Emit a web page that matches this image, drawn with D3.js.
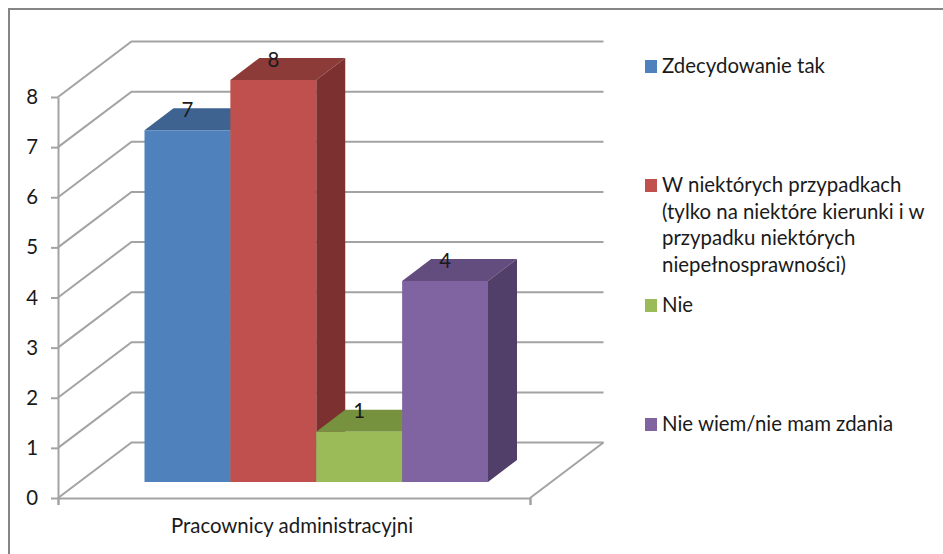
<!DOCTYPE html>
<html lang="pl">
<head>
<meta charset="utf-8">
<style>
  html, body { margin: 0; padding: 0; background: #fff; }
  svg { display: block; }
  text { font-family: Lato, "Open Sans", sans-serif; fill: #1a1a1a; }
</style>
<script src="https://cdn.jsdelivr.net/npm/d3@7/dist/d3.min.js"></script>
</head>
<body>
<svg id="chart" width="943" height="554"></svg>
<script>
const category = "Pracownicy administracyjni";
const seriesNames = ["Zdecydowanie tak", "W niektórych przypadkach", "Nie", "Nie wiem/nie mam zdania"];
const seriesValues = [7, 8, 1, 4];
const frontColors = ["#4f81bd", "#c0504d", "#9bbb59", "#8064a2"];
const topColors = ["#3f6390", "#8c3b39", "#76923f", "#634d7e"];
const sideColors = ["#34527a", "#7c302f", "#627a34", "#523f69"];
const yTicks = [0, 1, 2, 3, 4, 5, 6, 7, 8];
const legendEntries = [
  { swatch: 0, y: 66, lines: ["Zdecydowanie tak"] },
  { swatch: 1, y: 185, lines: ["W niektórych przypadkach", "(tylko na niektóre kierunki i w", "przypadku niektórych", "niepełnosprawności)"] },
  { swatch: 2, y: 305, lines: ["Nie"] },
  { swatch: 3, y: 424, lines: ["Nie wiem/nie mam zdania"] }
];

const svg = d3.select("#chart");
const gridColor = "#a3a3a3";
const fontSize = 20.4;

// Chart frame: only the top and left edges fall inside the canvas.
svg.append("path")
  .attr("d", d3.line()([[943, 9], [9, 9], [9, 554]]))
  .attr("fill", "none").attr("stroke", "#858585").attr("stroke-width", 2);

// Oblique projection: the wall sits behind the front plane, bars halfway in.
const wallY = d3.scaleLinear().domain([0, 8]).range([498, 97]);
const barY = d3.scaleLinear().domain([0, 8]).range([482, 80]);
const frontX = d3.scaleLinear().domain([0, 1]).range([58, 530]);
const wallDepth = { dx: 73.5, dy: -55.5 };
const barDepth = { dx: 29, dy: -22 };
const barX = d3.scaleBand().domain(seriesNames).range([144.5, 488]);

// Gridlines run along the side wall, then across the back wall.
const grid = svg.append("g").attr("fill", "none").attr("stroke", gridColor).attr("stroke-width", 2);
grid.selectAll("path").data(yTicks).join("path")
  .attr("d", v => d3.line()([
    [frontX(0), wallY(v)],
    [frontX(0) + wallDepth.dx, wallY(v) + wallDepth.dy],
    [frontX(1) + wallDepth.dx, wallY(v) + wallDepth.dy]
  ]));
grid.append("path").attr("d", d3.line()([
  [frontX(1) + wallDepth.dx, wallY(0) + wallDepth.dy],
  [frontX(1), wallY(0)]
]));

// Value axis
const yAxis = svg.append("g")
  .attr("transform", `translate(${frontX(0)},0)`)
  .call(d3.axisLeft(wallY).tickValues(yTicks).tickSize(7).tickPadding(13).tickSizeOuter(0));
yAxis.selectAll("line, path").attr("stroke", gridColor).attr("stroke-width", 2);
yAxis.selectAll("text").attr("font-size", fontSize).attr("font-family", "Lato").attr("fill", "#1a1a1a");

// Category axis
const xAxis = svg.append("g")
  .attr("transform", `translate(0,${wallY(0)})`)
  .call(d3.axisBottom(frontX).tickValues([0, 1]).tickSize(7).tickFormat(""));
xAxis.selectAll("line, path").attr("stroke", gridColor).attr("stroke-width", 2);
svg.append("text")
  .attr("x", 292).attr("y", 533)
  .attr("text-anchor", "middle").attr("font-size", fontSize)
  .text(category);

// Bars, painted left to right so each one covers its neighbour's side face.
const bars = svg.append("g").selectAll("g").data(seriesValues).join("g");
const w = barX.bandwidth();
const polygon = pts => d3.line()(pts) + "Z";
bars.append("path")
  .attr("fill", (d, i) => topColors[i])
  .attr("d", (d, i) => {
    const x = barX(seriesNames[i]), y = barY(d);
    return polygon([[x, y], [x + barDepth.dx, y + barDepth.dy], [x + w + barDepth.dx, y + barDepth.dy], [x + w, y]]);
  });
bars.append("path")
  .attr("fill", (d, i) => sideColors[i])
  .attr("d", (d, i) => {
    const x = barX(seriesNames[i]) + w, y = barY(d), y0 = barY(0);
    return polygon([[x, y], [x + barDepth.dx, y + barDepth.dy], [x + barDepth.dx, y0 + barDepth.dy], [x, y0]]);
  });
bars.append("rect")
  .attr("fill", (d, i) => frontColors[i])
  .attr("x", (d, i) => barX(seriesNames[i]))
  .attr("y", d => barY(d))
  .attr("width", w)
  .attr("height", d => barY(0) - barY(d));

// Value labels straddle the back edge of each bar's top face.
svg.append("g").selectAll("text").data(seriesValues).join("text")
  .attr("x", (d, i) => barX(seriesNames[i]) + w / 2)
  .attr("y", d => barY(d) + barDepth.dy + 8.5)
  .attr("text-anchor", "middle").attr("font-size", fontSize).attr("fill", "#111")
  .text(d => d);

// Legend
const legend = svg.append("g").selectAll("g").data(legendEntries).join("g");
legend.append("rect")
  .attr("x", 645).attr("y", d => d.y - 6)
  .attr("width", 12).attr("height", 13)
  .attr("fill", d => frontColors[d.swatch]);
legend.each(function (d) {
  d3.select(this).selectAll("text").data(d.lines).join("text")
    .attr("x", 662)
    .attr("y", (line, i) => d.y + 7 + i * 26.7)
    .attr("font-size", fontSize)
    .text(line => line);
});
</script>
</body>
</html>
